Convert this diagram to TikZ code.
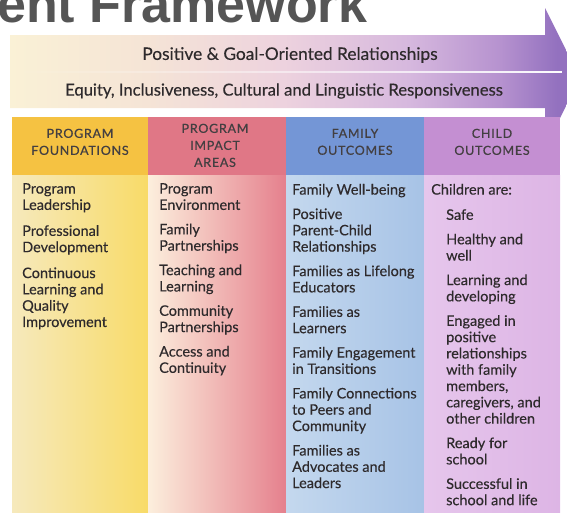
\documentclass[tikz,border=0pt]{standalone}
\usepackage{fontspec}
\setmainfont{Lato}
\newfontfamily\titlefamily{Liberation Sans}
\newfontfamily\itemfamily{Lato}[FakeBold=0.3]
\newfontfamily\headfamily{Lato}[LetterSpace=6.0, FakeBold=0.7]
\usetikzlibrary{positioning, fadings}

% band colours, light on the left to purple at the head
\definecolor{bandA}{HTML}{FAF1D6}
\definecolor{bandB}{HTML}{F5E4D6}
\definecolor{bandC}{HTML}{EDD2DE}
\definecolor{bandD}{HTML}{D6B8DE}
\definecolor{bandE}{HTML}{B692CF}
\definecolor{bandF}{HTML}{9371BF}
% column colours
\definecolor{foundHead}{HTML}{F5C242}
\definecolor{foundL}{HTML}{F6E9BC}
\definecolor{foundR}{HTML}{F8DB68}
\definecolor{impactHead}{HTML}{E07786}
\definecolor{impactL}{HTML}{FCEFDD}
\definecolor{impactM}{HTML}{F5C7BD}
\definecolor{impactR}{HTML}{E5808D}
\definecolor{familyHead}{HTML}{7496D6}
\definecolor{familyL}{HTML}{C4D8EE}
\definecolor{familyR}{HTML}{A7C3E6}
\definecolor{childHead}{HTML}{C48FD2}
\definecolor{childL}{HTML}{E6C6EC}
\definecolor{childR}{HTML}{DDB5E5}
\definecolor{ink}{HTML}{2E2A2C}
\definecolor{titlegray}{HTML}{555555}

\pgfdeclarehorizontalshading{bandshade}{100bp}{%
    color(0bp)=(bandA); color(25bp)=(bandA); color(37bp)=(bandB);
    color(49bp)=(bandC); color(60bp)=(bandD); color(68bp)=(bandE);
    color(73bp)=(bandF); color(100bp)=(bandF)}

\newcommand{\itemfont}{\itemfamily\fontsize{14.5}{16.3}\selectfont}
\newcommand{\headfont}{\headfamily\fontsize{12.5}{17}\selectfont}

\begin{document}
\begin{tikzpicture}[x=1pt, y=-1pt,
        item/.style={anchor=north west, inner sep=0pt, align=left, text=ink,
                font=\itemfont, execute at begin node=\strut, execute at end node=\strut},
        follow/.style={below=8.5pt of #1.south west, anchor=north west},
        head/.style={anchor=north, inner sep=0pt, align=center, text=ink!90,
                font=\headfont, execute at begin node=\strut, execute at end node=\strut},
        band/.style={inner sep=0pt, text=ink}]

    \useasboundingbox (0, 0) rectangle (567, 512);
    \clip (0, 0) rectangle (567, 512);

    % the big arrow behind the two bands
    \shade [shading=bandshade] (10, 35) -- (545, 35) -- (545, 8) -- (580, 78)
        -- (545, 148) -- (545, 108) -- (10, 108) -- cycle;
    \fill [white, path fading=west] (10, 71) rectangle (563, 73);

    \node [band, font=\itemfamily\fontsize{17.3}{18}\selectfont] (rel) at (290, 55)
        {Positive \& Goal-Oriented Relationships};
    \node [band, font=\itemfamily\fontsize{16.6}{18}\selectfont] (equity) at (284, 91)
        {Equity, Inclusiveness, Cultural and Linguistic Responsiveness};

    \node [anchor=base west, inner sep=0pt, text=titlegray,
        font=\titlefamily\bfseries\fontsize{52}{52}\selectfont] (title) at (-3, 22) {ent Framework};

    % columns: header block and shaded body
    \fill [foundHead] (12, 117) rectangle (148, 175);
    \shade [left color=foundL, right color=foundR] (12, 175) rectangle (148, 512);
    \fill [impactHead] (148, 117) rectangle (286, 175);
    \shade [left color=impactL, middle color=impactM, right color=impactR] (148, 175) rectangle (286, 512);
    \fill [familyHead] (286, 117) rectangle (424, 175);
    \shade [left color=familyL, right color=familyR] (286, 175) rectangle (424, 512);
    \fill [childHead] (424, 117) rectangle (560, 175);
    \shade [left color=childL, right color=childR] (424, 175) rectangle (560, 512);

    \node [head] (foundhead) at (80, 128.6) {PROGRAM\\FOUNDATIONS};
    \node [head] (impacthead) at (215, 123.6) {PROGRAM\\IMPACT\\AREAS};
    \node [head] (familyhead) at (355, 128.6) {FAMILY\\OUTCOMES};
    \node [head] (childhead) at (492, 128.6) {CHILD\\OUTCOMES};

    % program foundations
    \node [item] (found1) at (22, 183) {Program\\Leadership};
    \node [item, below=10pt of found1.south west, anchor=north west] (found2) {Professional\\Development};
    \node [item, below=10pt of found2.south west, anchor=north west] (found3) {Continuous\\Learning and\\Quality\\Improvement};

    % program impact areas
    \node [item] (impact1) at (159, 183) {Program\\Environment};
    \node [item, follow=impact1] (impact2) {Family\\Partnerships};
    \node [item, follow=impact2] (impact3) {Teaching and\\Learning};
    \node [item, follow=impact3] (impact4) {Community\\Partnerships};
    \node [item, follow=impact4] (impact5) {Access and\\Continuity};

    % family outcomes
    \node [item] (family1) at (292, 183) {Family Well-being};
    \node [item, follow=family1] (family2) {Positive\\Parent-Child\\Relationships};
    \node [item, follow=family2] (family3) {Families as Lifelong\\Educators};
    \node [item, follow=family3] (family4) {Families as\\Learners};
    \node [item, follow=family4] (family5) {Family Engagement\\in Transitions};
    \node [item, follow=family5] (family6) {Family Connections\\to Peers and\\Community};
    \node [item, follow=family6] (family7) {Families as\\Advocates and\\Leaders};

    % child outcomes
    \node [item] (child0) at (431, 183) {Children are:};
    \node [item, follow=child0, xshift=15pt] (child1) {Safe};
    \node [item, follow=child1] (child2) {Healthy and\\well};
    \node [item, follow=child2] (child3) {Learning and\\developing};
    \node [item, follow=child3] (child4) {Engaged in\\positive\\relationships\\with family\\members,\\caregivers, and\\other children};
    \node [item, follow=child4] (child5) {Ready for\\school};
    \node [item, follow=child5] (child6) {Successful in\\school and life};

\end{tikzpicture}
\end{document}
